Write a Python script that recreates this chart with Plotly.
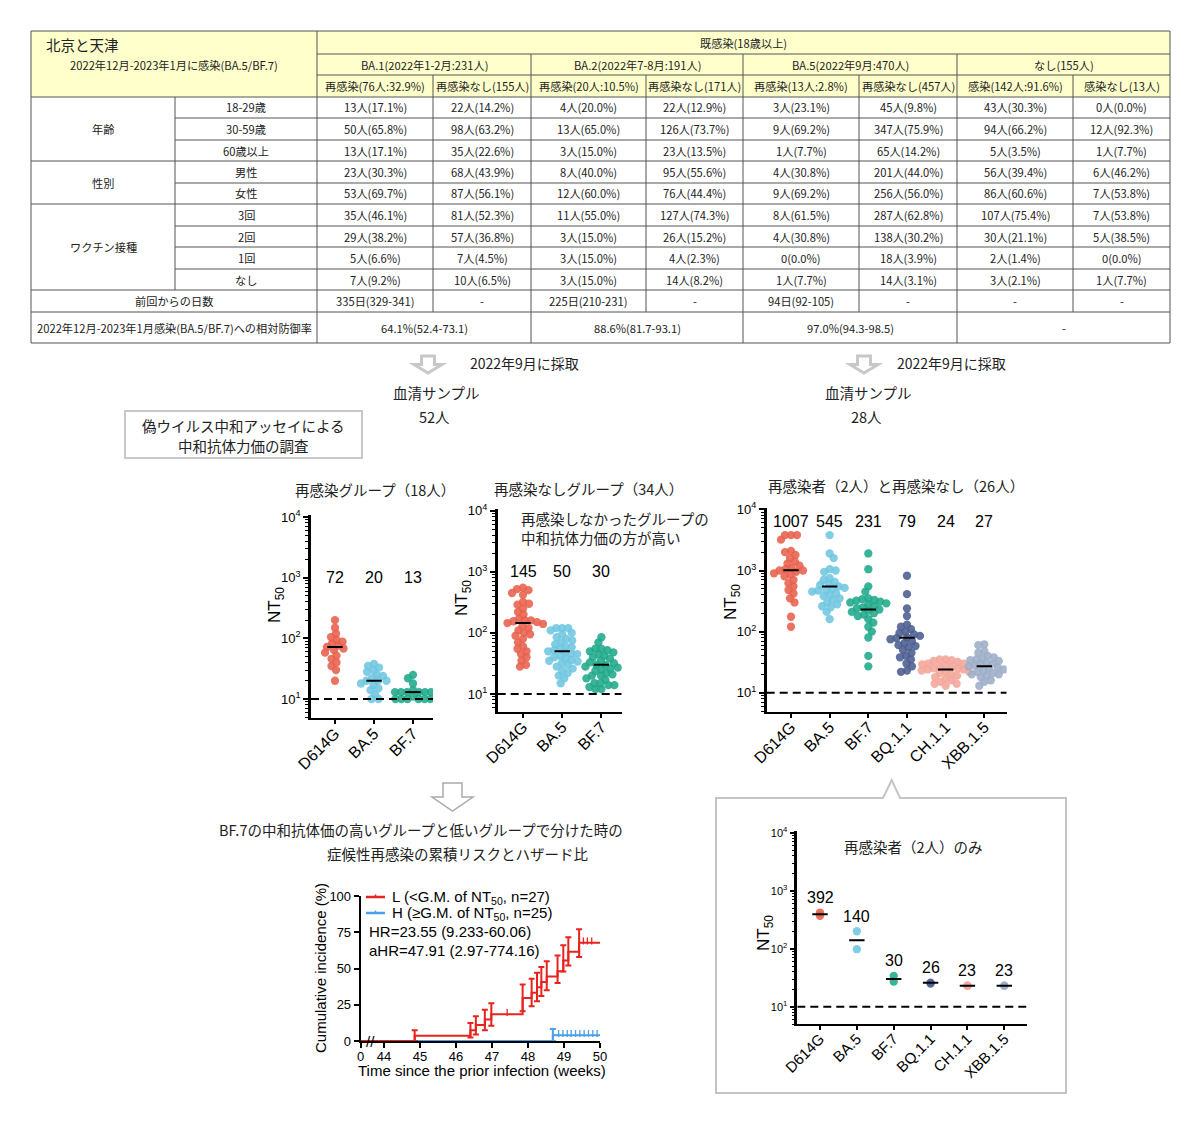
import numpy as np
import plotly.graph_objects as go

# page offset (browser body margin) compensation
OFF = 8
FW, FH = 1184, 1110
JP = "Noto Sans CJK JP"
AR = "Liberation Sans"

# ---------------- data: table ----------------
table_title = "北京と天津"
table_subtitle = "2022年12月-2023年1月に感染(BA.5/BF.7)"
top_header = "既感染(18歳以上)"
group_headers = ["BA.1(2022年1-2月:231人)", "BA.2(2022年7-8月:191人)",
                 "BA.5(2022年9月:470人)", "なし(155人)"]
sub_headers = ["再感染(76人:32.9%)", "再感染なし(155人)", "再感染(20人:10.5%)", "再感染なし(171人)",
               "再感染(13人:2.8%)", "再感染なし(457人)", "感染(142人:91.6%)", "感染なし(13人)"]
row_groups = ["年齢", "性別", "ワクチン接種"]
row_group_sizes = [3, 2, 4]
row_labels = ["18-29歳", "30-59歳", "60歳以上", "男性", "女性", "3回", "2回", "1回", "なし"]
table_values = [
    ["13人(17.1%)", "22人(14.2%)", "4人(20.0%)", "22人(12.9%)", "3人(23.1%)", "45人(9.8%)", "43人(30.3%)", "0人(0.0%)"],
    ["50人(65.8%)", "98人(63.2%)", "13人(65.0%)", "126人(73.7%)", "9人(69.2%)", "347人(75.9%)", "94人(66.2%)", "12人(92.3%)"],
    ["13人(17.1%)", "35人(22.6%)", "3人(15.0%)", "23人(13.5%)", "1人(7.7%)", "65人(14.2%)", "5人(3.5%)", "1人(7.7%)"],
    ["23人(30.3%)", "68人(43.9%)", "8人(40.0%)", "95人(55.6%)", "4人(30.8%)", "201人(44.0%)", "56人(39.4%)", "6人(46.2%)"],
    ["53人(69.7%)", "87人(56.1%)", "12人(60.0%)", "76人(44.4%)", "9人(69.2%)", "256人(56.0%)", "86人(60.6%)", "7人(53.8%)"],
    ["35人(46.1%)", "81人(52.3%)", "11人(55.0%)", "127人(74.3%)", "8人(61.5%)", "287人(62.8%)", "107人(75.4%)", "7人(53.8%)"],
    ["29人(38.2%)", "57人(36.8%)", "3人(15.0%)", "26人(15.2%)", "4人(30.8%)", "138人(30.2%)", "30人(21.1%)", "5人(38.5%)"],
    ["5人(6.6%)", "7人(4.5%)", "3人(15.0%)", "4人(2.3%)", "0(0.0%)", "18人(3.9%)", "2人(1.4%)", "0(0.0%)"],
    ["7人(9.2%)", "10人(6.5%)", "3人(15.0%)", "14人(8.2%)", "1人(7.7%)", "14人(3.1%)", "3人(2.1%)", "1人(7.7%)"],
]
days_label = "前回からの日数"
days_values = ["335日(329-341)", "-", "225日(210-231)", "-", "94日(92-105)", "-", "-", "-"]
prot_label = "2022年12月-2023年1月感染(BA.5/BF.7)への相対防御率"
prot_values = ["64.1%(52.4-73.1)", "88.6%(81.7-93.1)", "97.0%(94.3-98.5)", "-"]

# ---------------- data: neutralisation panels ----------------
cats3 = ["D614G", "BA.5", "BF.7"]
cats6 = ["D614G", "BA.5", "BF.7", "BQ.1.1", "CH.1.1", "XBB.1.5"]
variant_colors = ["#E8604C", "#6EC6E0", "#1FA88A", "#4B5D8F", "#F4A59A", "#9CADC7"]

reinf_D614G = [200, 150, 120, 105, 95, 88, 82, 76, 72, 68, 64, 58, 52, 46, 40, 35, 30, 20]
reinf_BA5 = [38, 35, 33, 30, 28, 25, 24, 22, 20, 20, 20, 18, 17, 15, 14, 12, 10, 10]
reinf_BF7 = [25, 22, 18, 14, 13, 13, 13, 13, 13, 13, 12, 11, 10, 10, 10, 10, 10, 10]
reinf_gm = [72, 20, 13]

noreinf_D614G = [550, 520, 500, 450, 420, 320, 300, 290, 250, 220, 200, 170, 160, 160, 155, 150, 145,
                 140, 130, 120, 110, 100, 95, 90, 80, 70, 60, 55, 50, 45, 40, 35, 30, 28]
noreinf_BA5 = [120, 120, 120, 110, 100, 95, 85, 80, 75, 70, 65, 60, 58, 55, 52, 50, 48, 46, 45, 42,
               40, 38, 36, 35, 34, 32, 30, 28, 26, 24, 22, 20, 18, 15]
noreinf_BF7 = [85, 70, 55, 55, 52, 50, 48, 45, 42, 40, 38, 35, 33, 32, 30, 30, 28, 27, 26, 25, 24,
               22, 21, 20, 20, 18, 17, 15, 15, 14, 14, 13, 12, 12]
noreinf_gm = [145, 50, 30]

all28_D614G = [3800, 3800, 3800, 3200, 2100, 2000, 1800, 1600, 1400, 1300, 1200, 1100, 1050, 1000,
               1000, 950, 900, 850, 800, 700, 620, 550, 480, 420, 350, 300, 175, 120]
all28_BA5 = [3800, 1900, 1600, 1050, 1000, 950, 750, 700, 650, 600, 580, 550, 520, 500, 480, 470,
             450, 420, 400, 380, 350, 330, 300, 280, 260, 250, 210, 160]
all28_BF7 = [1900, 1050, 550, 450, 350, 340, 330, 320, 310, 300, 290, 280, 260, 250, 240, 230, 220,
             210, 200, 190, 180, 160, 140, 120, 100, 80, 40, 27]
all28_BQ11 = [820, 410, 240, 180, 130, 120, 110, 100, 95, 90, 85, 80, 78, 75, 70, 65, 60, 58, 55, 50,
              45, 40, 38, 35, 30, 27, 23, 22]
all28_CH11 = [35, 35, 34, 33, 32, 30, 30, 29, 28, 27, 26, 25, 25, 24, 24, 23, 22, 22, 21, 20, 19, 18,
              17, 16, 15, 14, 14, 13]
all28_XBB15 = [62, 60, 48, 45, 40, 38, 36, 35, 34, 33, 31, 30, 29, 28, 27, 26, 25, 24, 23, 22, 21,
               20, 20, 19, 18, 16, 15, 13]
all28_gm = [1007, 545, 231, 79, 24, 27]

only2_D614G = [420, 370]
only2_BA5 = [200, 98]
only2_BF7 = [34, 27]
only2_BQ11 = [26, 25]
only2_CH11 = [23, 23]
only2_XBB15 = [23, 23]
only2_gm = [392, 140, 30, 26, 23, 23]

detection_limit = 10

# ---------------- data: cumulative incidence ----------------
week_ticks = [44, 45, 46, 47, 48, 49, 50]
L_times = [44.85, 46.4, 46.55, 46.8, 46.98, 47.85, 48.1, 48.25, 48.37, 48.52, 48.82, 48.98, 49.12, 49.42]
L_inc = [3.7, 7.4, 11.1, 14.8, 18.5, 29.6, 33.3, 37.0, 40.7, 44.4, 48.1, 55.6, 61.6, 67.8]
L_lo = [0, 2.5, 4.5, 7.5, 10.5, 20.5, 24, 27.5, 31, 35, 40, 48, 52, 58]
L_hi = [7.5, 12.5, 17, 21.5, 26, 39, 43, 47, 51, 55, 59, 66, 71.5, 77]
L_cens_t = [47.42, 49.54, 49.65, 49.77]
L_cens_v = [18.5, 67.8, 67.8, 67.8]
H_times = [48.69]
H_inc = [4.0]
H_lo = [0]
H_hi = [8.3]
H_cens_t = [48.85, 48.97, 49.09, 49.2, 49.32, 49.44, 49.56, 49.68, 49.8, 49.92]
H_cens_v = [4.0] * 10
L_label = "L (&lt;G.M. of NT<sub>50</sub>, n=27)"
H_label = "H (≥G.M. of NT<sub>50</sub>, n=25)"
hr_text = "HR=23.55 (9.233-60.06)"
ahr_text = "aHR=47.91 (2.97-774.16)"


def X(px):
    return (px - OFF) / FW


def Y(py):
    return 1 - (py - OFF) / FH


fig = go.Figure()
shapes = []
annotations = []
TS = 11.2  # table font size


def txt(x, y, s, size=TS, xanchor="center", font=JP, color="#222", yanchor="middle", **kw):
    annotations.append(dict(x=X(x), y=Y(y), xref="paper", yref="paper", text=s, showarrow=False,
                            xanchor=xanchor, yanchor=yanchor,
                            font=dict(family=font, size=size, color=color), **kw))


def hline(x0, x1, y, color="#555", w=1):
    shapes.append(dict(type="line", xref="paper", yref="paper", x0=X(x0), x1=X(x1), y0=Y(y), y1=Y(y),
                       line=dict(color=color, width=w)))


def vline(x, y0, y1, color="#555", w=1):
    shapes.append(dict(type="line", xref="paper", yref="paper", x0=X(x), x1=X(x), y0=Y(y0), y1=Y(y1),
                       line=dict(color=color, width=w)))


def path(pts, line="#c6c6c6", w=2, fill="rgba(0,0,0,0)"):
    d = "M " + " L ".join(f"{X(a):.5f},{Y(b):.5f}" for a, b in pts) + " Z"
    shapes.append(dict(type="path", xref="paper", yref="paper", path=d,
                       line=dict(color=line, width=w), fillcolor=fill))


# ---------------- table ----------------
cx = [31, 175, 317, 433, 531, 646, 743, 859, 957, 1073, 1170]
ry = [31, 54, 75, 97, 118, 140, 161, 183, 204, 226, 247, 269, 290, 312, 343]
shapes.append(dict(type="rect", xref="paper", yref="paper", x0=X(cx[0]), x1=X(cx[-1]), y0=Y(ry[0]),
                   y1=Y(ry[3]), fillcolor="#FFFFCC", line=dict(width=0), layer="below"))
for y in [ry[0], ry[3], ry[6], ry[8], ry[12], ry[13], ry[14]]:
    hline(cx[0], cx[-1], y)
for y in [ry[1], ry[2]]:
    hline(cx[2], cx[-1], y)
for y in [ry[4], ry[5], ry[7], ry[9], ry[10], ry[11]]:
    hline(cx[1], cx[-1], y)
for x in [cx[0], cx[2], cx[-1]]:
    vline(x, ry[0], ry[14])
for x in [cx[4], cx[6], cx[8]]:
    vline(x, ry[1], ry[14])
for x in [cx[3], cx[5], cx[7], cx[9]]:
    vline(x, ry[2], ry[13])
vline(cx[1], ry[3], ry[12])

txt(44, 44, table_title, size=14.5, xanchor="left")
txt((cx[0] + cx[2]) / 2, 64.5, table_subtitle)
txt((cx[2] + cx[-1]) / 2, 42.5, top_header)
for g, s in enumerate(group_headers):
    txt((cx[2 + 2 * g] + cx[4 + 2 * g]) / 2, 64.5, s)
for j, s in enumerate(sub_headers):
    txt((cx[2 + j] + cx[3 + j]) / 2, 86, s)
r0 = 3
for g, n in zip(row_groups, row_group_sizes):
    txt((cx[0] + cx[1]) / 2, (ry[r0] + ry[r0 + n]) / 2, g)
    r0 += n
for i, lab in enumerate(row_labels):
    ymid = (ry[3 + i] + ry[4 + i]) / 2
    txt((cx[1] + cx[2]) / 2, ymid, lab)
    for j, v in enumerate(table_values[i]):
        txt((cx[2 + j] + cx[3 + j]) / 2, ymid, v)
txt((cx[0] + cx[2]) / 2, (ry[12] + ry[13]) / 2, days_label)
for j, v in enumerate(days_values):
    txt((cx[2 + j] + cx[3 + j]) / 2, (ry[12] + ry[13]) / 2, v)
txt((cx[0] + cx[2]) / 2, (ry[13] + ry[14]) / 2, prot_label)
for g, v in enumerate(prot_values):
    txt((cx[2 + 2 * g] + cx[4 + 2 * g]) / 2, (ry[13] + ry[14]) / 2, v)


# ---------------- flow texts / arrows ----------------
def small_arrow(c, top):
    path([(c - 6.5, top), (c + 6.5, top), (c + 6.5, top + 8.5), (c + 14, top + 8.5), (c, top + 17),
          (c - 14, top + 8.5), (c - 6.5, top + 8.5)], line="#c8c8c8", w=3, fill="white")


small_arrow(428, 356)
small_arrow(864, 356)
txt(468, 363, "2022年9月に採取", size=14, xanchor="left")
txt(895, 363, "2022年9月に採取", size=14, xanchor="left")
txt(436, 392, "血清サンプル", size=14.5)
txt(434, 416, "52人", size=14.5)
txt(868, 392, "血清サンプル", size=14.5)
txt(866, 416, "28人", size=14.5)
shapes.append(dict(type="rect", xref="paper", yref="paper", x0=X(125), x1=X(362), y0=Y(458), y1=Y(411),
                   line=dict(color="#c8c8c8", width=2)))
txt(243, 426, "偽ウイルス中和アッセイによる", size=14.5)
txt(243, 445, "中和抗体力価の調査", size=14.5)

path([(443, 783), (462, 783), (462, 797), (473, 797), (452.5, 811), (432, 797), (443, 797)],
     line="#aaaaaa", w=1.5, fill="white")
txt(421, 829, "BF.7の中和抗体価の高いグループと低いグループで分けた時の", size=14.5)
txt(457, 853, "症候性再感染の累積リスクとハザード比", size=14.5)

path([(716, 798), (883, 798), (891.7, 780), (900, 798), (1066, 798), (1066, 1093), (716, 1093)],
     line="#c4c4c4", w=2)

# ---------------- dot panels ----------------
panels = [
    dict(ax="", cats=cats3, data=[reinf_D614G, reinf_BA5, reinf_BF7], gm=reinf_gm,
         xpx=(311, 433), cat0=335, step=39.0, dec=60.67, y10=699, top=515, bot=718, swarm=True,
         title="再感染グループ（18人）", tpos=(375, 489), gm_y="fixed3", tickf=13, catf=16, gmf=16,
         ylab=(276, 605)),
    dict(ax="2", cats=cats3, data=[noreinf_D614G, noreinf_BA5, noreinf_BF7], gm=noreinf_gm,
         xpx=(497.7, 621.7), cat0=523, step=39.2, dec=61.1, y10=694, top=509, bot=711.7, swarm=True,
         title="再感染なしグループ（34人）", tpos=(588, 488), gm_y="fixed3", tickf=13, catf=16, gmf=16,
         ylab=(463, 598)),
    dict(ax="3", cats=cats6, data=[all28_D614G, all28_BA5, all28_BF7, all28_BQ11, all28_CH11, all28_XBB15],
         gm=all28_gm, xpx=(766.7, 1006.7), cat0=791, step=38.66, dec=61.1, y10=692.7, top=508, bot=711.7,
         swarm=True, title="再感染者（2人）と再感染なし（26人）", tpos=(896, 485), gm_y="fixed38",
         tickf=13, catf=16, gmf=16, ylab=(732, 602)),
    dict(ax="4", cats=cats6, data=[only2_D614G, only2_BA5, only2_BF7, only2_BQ11, only2_CH11, only2_XBB15],
         gm=only2_gm, xpx=(797.3, 1026.7), cat0=820, step=36.86, dec=58.0, y10=1006.7, top=831, bot=1024.3,
         swarm=False, title="再感染者（2人）のみ", tpos=(913, 846), gm_y="above", tickf=11, catf=15, gmf=16,
         ylab=(765, 933)),
]


def swarm_offsets(vals, dec_px, step_px, diam=8.0, overlap=0.74):
    """Deterministic beeswarm in pixel space; returns offsets in category units."""
    ypx = np.log10(np.asarray(vals, dtype=float)) * dec_px
    order = np.argsort(-ypx, kind="stable")
    placed = []
    off = np.zeros(len(vals))
    mind2 = (diam * overlap) ** 2
    for n_done, i in enumerate(order):
        y = ypx[i]
        chosen = 0.0
        for k in range(0, 400):
            signs = [1] if k == 0 else ([1, -1] if n_done % 2 == 0 else [-1, 1])
            ok = None
            for s in signs:
                x = s * k * 0.5
                if all((x - px) ** 2 + (y - py) ** 2 >= mind2 for px, py in placed):
                    ok = x
                    break
            if ok is not None:
                chosen = ok
                break
        placed.append((chosen, y))
        off[i] = chosen / step_px
    return off


minor_vals = [m * 10 ** e for e in range(0, 4) for m in range(2, 10)]
layout_axes = {}
for p in panels:
    a = p["ax"]
    xr = [-(p["cat0"] - p["xpx"][0]) / p["step"], (p["xpx"][1] - p["cat0"]) / p["step"]]
    yr = [1 - (p["bot"] - p["y10"]) / p["dec"], 1 + (p["y10"] - p["top"]) / p["dec"]]
    xname, yname = "x" + a, "y" + a
    for i, vals in enumerate(p["data"]):
        off = swarm_offsets(vals, p["dec"], p["step"]) if p["swarm"] else np.zeros(len(vals))
        fig.add_trace(go.Scatter(x=i + off, y=vals, mode="markers", xaxis=xname, yaxis=yname,
                                 marker=dict(size=8.3, color=variant_colors[i], opacity=0.88),
                                 showlegend=False, hoverinfo="skip"))
    fig.add_trace(go.Scatter(x=list(range(len(p["cats"]))), y=p["gm"], mode="markers", xaxis=xname,
                             yaxis=yname, showlegend=False, hoverinfo="skip",
                             marker=dict(symbol="line-ew", size=11, line=dict(color="black", width=2))))
    fig.add_trace(go.Scatter(x=xr, y=[detection_limit, detection_limit], mode="lines", xaxis=xname,
                             yaxis=yname, showlegend=False, hoverinfo="skip",
                             line=dict(color="black", width=2, dash="8px,5px")))
    for i, g in enumerate(p["gm"]):
        if p["gm_y"] == "fixed3":
            gy = 3.0
        elif p["gm_y"] == "fixed38":
            gy = 3.8
        else:
            gy = np.log10(max(p["data"][i])) + 0.26
        annotations.append(dict(x=i, y=gy, xref=xname, yref=yname, text=str(g), showarrow=False,
                                font=dict(family=AR, size=p["gmf"], color="black")))
    txt(p["tpos"][0], p["tpos"][1], p["title"], size=14.5)
    txt(p["ylab"][0], p["ylab"][1], "NT<sub>50</sub>", size=17, font=AR, color="black", textangle=-90)
    layout_axes["xaxis" + a] = dict(domain=[X(p["xpx"][0]), X(p["xpx"][1])], range=xr, anchor=yname,
                                    tickvals=list(range(len(p["cats"]))), ticktext=p["cats"], tickangle=-45,
                                    showline=True, linecolor="black", linewidth=2, ticks="outside",
                                    ticklen=4, tickwidth=2, tickcolor="black", showgrid=False,
                                    zeroline=False, automargin=False, ticklabelstandoff=-6,
                                    tickfont=dict(family=AR, size=p["catf"], color="black"),
                                    fixedrange=True)
    layout_axes["yaxis" + a] = dict(domain=[Y(p["bot"]), Y(p["top"])], type="log", range=yr, anchor=xname,
                                    tickvals=[10, 100, 1000, 10000],
                                    ticktext=["10<sup>1</sup>", "10<sup>2</sup>", "10<sup>3</sup>",
                                              "10<sup>4</sup>"],
                                    showline=True, linecolor="black", linewidth=2.5, ticks="outside",
                                    ticklen=5, tickwidth=2, tickcolor="black", showgrid=False,
                                    zeroline=False, automargin=False,
                                    minor=dict(tickvals=minor_vals, ticks="outside", ticklen=3,
                                               tickwidth=1, tickcolor="black"),
                                    tickfont=dict(family=AR, size=p["tickf"], color="black"),
                                    fixedrange=True)

txt(519, 528, "再感染しなかったグループの<br>中和抗体力価の方が高い", size=14.5, xanchor="left", align="left")

# ---------------- cumulative incidence panel ----------------
RED = "#E8231D"
BLUE = "#4BA0E6"
x_start = 43.35
fig.add_trace(go.Scatter(x=[x_start] + H_times + [50], y=[0] + H_inc + [H_inc[-1]], mode="lines",
                         line=dict(color=BLUE, width=2, shape="hv"), xaxis="x5", yaxis="y5",
                         showlegend=False, hoverinfo="skip", cliponaxis=False))
fig.add_trace(go.Scatter(x=[x_start] + L_times + [50], y=[0] + L_inc + [L_inc[-1]], mode="lines",
                         line=dict(color=RED, width=2, shape="hv"), xaxis="x5", yaxis="y5",
                         showlegend=False, hoverinfo="skip", cliponaxis=False))
for t, v, lo, hi, col in [(L_times, L_inc, L_lo, L_hi, RED), (H_times, H_inc, H_lo, H_hi, BLUE)]:
    fig.add_trace(go.Scatter(x=t, y=v, mode="markers", marker=dict(size=1, color=col), xaxis="x5",
                             yaxis="y5", showlegend=False, hoverinfo="skip", cliponaxis=False,
                             error_y=dict(type="data", symmetric=False,
                                          array=list(np.array(hi) - np.array(v)),
                                          arrayminus=list(np.array(v) - np.array(lo)),
                                          color=col, thickness=2, width=3)))
for t, v, col in [(L_cens_t, L_cens_v, RED), (H_cens_t, H_cens_v, BLUE)]:
    fig.add_trace(go.Scatter(x=t, y=list(np.array(v) + 1.2), mode="markers", xaxis="x5", yaxis="y5",
                             marker=dict(symbol="line-ns", size=5, line=dict(color=col, width=1.3)),
                             showlegend=False, hoverinfo="skip", cliponaxis=False))

layout_axes["xaxis5"] = dict(domain=[X(360.7), X(600)], range=[x_start, 50], anchor="y5",
                             tickvals=[x_start] + week_ticks, ticktext=["0"] + [str(w) for w in week_ticks],
                             showline=True, linecolor="black", linewidth=2, ticks="outside", ticklen=5,
                             tickwidth=1.5, tickcolor="black", showgrid=False, zeroline=False,
                             layer="below traces", automargin=False, ticklabelstandoff=-3,
                             tickfont=dict(family=AR, size=13, color="black"), fixedrange=True)
layout_axes["yaxis5"] = dict(domain=[Y(1041), Y(896)], range=[0, 100], anchor="x5",
                             tickvals=[0, 25, 50, 75, 100], showline=True, linecolor="black", linewidth=2,
                             ticks="outside", ticklen=5, tickwidth=1.5, tickcolor="black", showgrid=False,
                             zeroline=False, layer="below traces", automargin=False,
                             tickfont=dict(family=AR, size=13, color="black"), fixedrange=True)
txt(482, 1070, "Time since the prior infection (weeks)", size=15, font=AR, color="black")
txt(320, 968, "Cumulative incidence (%)", size=15, font=AR, color="black", textangle=-90)
annotations.append(dict(x=43.63, y=0, xref="x5", yref="y5", text="//", showarrow=False,
                        font=dict(family=AR, size=15, color="black")))
for yy, col, lab in [(897, RED, L_label), (913, BLUE, H_label)]:
    hline(366, 385, yy, color=col, w=2.5)
    vline(375.5, yy - 2.5, yy + 0.5, color=col, w=1.5)
    txt(390, yy, lab, size=15, xanchor="left", font=AR, color="black")
txt(367, 931, hr_text, size=15, xanchor="left", font=AR, color="black")
txt(367, 950, ahr_text, size=15, xanchor="left", font=AR, color="black")

fig.update_layout(width=FW, height=FH, margin=dict(l=0, r=0, t=0, b=0, autoexpand=False),
                  paper_bgcolor="white", plot_bgcolor="rgba(0,0,0,0)", shapes=shapes,
                  annotations=annotations, showlegend=False, **layout_axes)
fig.write_html("out.html")
